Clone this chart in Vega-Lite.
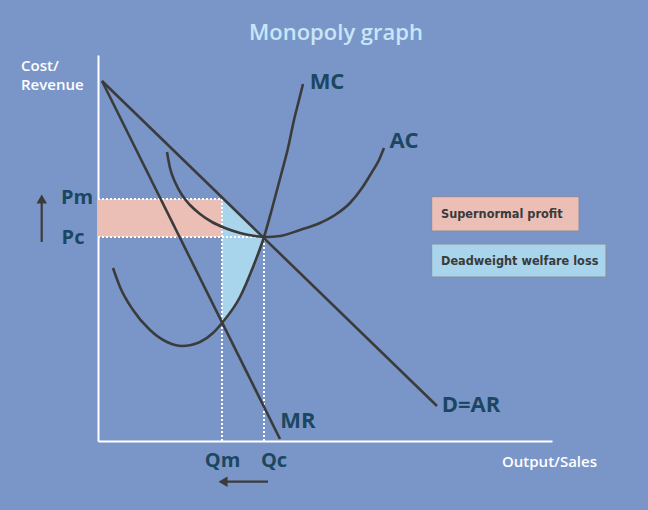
{
  "$schema": "https://vega.github.io/schema/vega-lite/v6.json",
  "width": 454,
  "height": 386,
  "autosize": "none",
  "padding": {"left": 98, "top": 55, "right": 96, "bottom": 69},
  "background": "#7a96c8",
  "config": {"view": {"stroke": null}, "font": "Open Sans"},
  "datasets": {
    "curves": [
      {"curve": "D=AR", "Q": 4, "P": 360}, {"curve": "D=AR", "Q": 339, "P": 35},
      {"curve": "MR", "Q": 4, "P": 360}, {"curve": "MR", "Q": 182, "P": 2},
      {"curve": "MC", "Q": 15, "P": 173}, {"curve": "MC", "Q": 22, "P": 154}, {"curve": "MC", "Q": 35, "P": 131},
      {"curve": "MC", "Q": 52, "P": 111}, {"curve": "MC", "Q": 69, "P": 99}, {"curve": "MC", "Q": 84, "P": 95},
      {"curve": "MC", "Q": 102, "P": 99}, {"curve": "MC", "Q": 115, "P": 108}, {"curve": "MC", "Q": 124, "P": 118},
      {"curve": "MC", "Q": 142, "P": 144}, {"curve": "MC", "Q": 155, "P": 174}, {"curve": "MC", "Q": 166, "P": 204},
      {"curve": "MC", "Q": 175, "P": 236}, {"curve": "MC", "Q": 183, "P": 266}, {"curve": "MC", "Q": 190, "P": 293},
      {"curve": "MC", "Q": 196, "P": 321}, {"curve": "MC", "Q": 201, "P": 341}, {"curve": "MC", "Q": 205, "P": 357},
      {"curve": "AC", "Q": 69, "P": 289}, {"curve": "AC", "Q": 72, "P": 273}, {"curve": "AC", "Q": 77, "P": 259},
      {"curve": "AC", "Q": 84, "P": 246}, {"curve": "AC", "Q": 92, "P": 236}, {"curve": "AC", "Q": 102, "P": 227},
      {"curve": "AC", "Q": 114, "P": 219}, {"curve": "AC", "Q": 127, "P": 213}, {"curve": "AC", "Q": 142, "P": 208},
      {"curve": "AC", "Q": 157, "P": 205}, {"curve": "AC", "Q": 168, "P": 204}, {"curve": "AC", "Q": 182, "P": 205},
      {"curve": "AC", "Q": 202, "P": 211}, {"curve": "AC", "Q": 222, "P": 218}, {"curve": "AC", "Q": 237, "P": 226},
      {"curve": "AC", "Q": 252, "P": 238}, {"curve": "AC", "Q": 264, "P": 253}, {"curve": "AC", "Q": 274, "P": 269},
      {"curve": "AC", "Q": 281, "P": 281}, {"curve": "AC", "Q": 286, "P": 293}
    ],
    "dwl": [
      {"kind": "Deadweight welfare loss", "Q": 124, "top": 242, "bottom": 118},
      {"kind": "Deadweight welfare loss", "Q": 133, "top": 234, "bottom": 130},
      {"kind": "Deadweight welfare loss", "Q": 142, "top": 226, "bottom": 144},
      {"kind": "Deadweight welfare loss", "Q": 155, "top": 214, "bottom": 174},
      {"kind": "Deadweight welfare loss", "Q": 160, "top": 209, "bottom": 189},
      {"kind": "Deadweight welfare loss", "Q": 166, "top": 204, "bottom": 204}
    ],
    "profit": [{"kind": "Supernormal profit", "Q": 0, "Q2": 124, "P": 204, "P2": 242}],
    "dotted": [
      {"Q": 0, "Q2": 124, "P": 242, "P2": 242},
      {"Q": 0, "Q2": 166, "P": 204, "P2": 204},
      {"Q": 124, "Q2": 124, "P": 0, "P2": 242},
      {"Q": 166, "Q2": 166, "P": 0, "P2": 204}
    ],
    "legend": [
      {"kind": "Supernormal profit", "Q": 333.7, "Q2": 481, "P": 210, "P2": 244.3, "tQ": 343, "tP": 227},
      {"kind": "Deadweight welfare loss", "Q": 333.7, "Q2": 508, "P": 164, "P2": 197, "tQ": 343, "tP": 180}
    ],
    "curveLabels": [
      {"label": "MC", "Q": 229, "P": 359},
      {"label": "AC", "Q": 306, "P": 300},
      {"label": "D=AR", "Q": 373, "P": 36},
      {"label": "MR", "Q": 200, "P": 20}
    ],
    "priceQtyLabels": [
      {"label": "Pm", "Q": -21, "P": 243},
      {"label": "Pc", "Q": -25, "P": 203},
      {"label": "Qm", "Q": 124.5, "P": -20},
      {"label": "Qc", "Q": 176, "P": -20}
    ],
    "arrowShafts": [
      {"Q": -56.3, "Q2": -56.3, "P": 199, "P2": 238},
      {"Q": 170, "Q2": 128, "P": -40.7, "P2": -40.7}
    ],
    "arrowHeads": [
      {"dir": "up", "Q": -56.3, "P": 242},
      {"dir": "left", "Q": 125, "P": -40.7}
    ]
  },
  "layer": [
    {
      "data": {"name": "profit"},
      "mark": {"type": "rect"},
      "encoding": {
        "x": {"field": "Q", "type": "quantitative", "scale": {"domain": [0, 454], "nice": false, "zero": false},
              "axis": {"title": null, "labels": false, "ticks": false, "grid": false, "domainColor": "#ffffff", "domainWidth": 2}},
        "x2": {"field": "Q2"},
        "y": {"field": "P", "type": "quantitative", "scale": {"domain": [0, 386], "nice": false, "zero": false},
              "axis": {"title": null, "labels": false, "ticks": false, "grid": false, "domainColor": "#ffffff", "domainWidth": 2}},
        "y2": {"field": "P2"},
        "color": {"field": "kind", "type": "nominal", "legend": null,
                  "scale": {"domain": ["Supernormal profit", "Deadweight welfare loss"], "range": ["#ebbfb6", "#a8d5ec"]}}
      }
    },
    {
      "data": {"name": "dwl"},
      "mark": {"type": "area", "interpolate": "monotone"},
      "encoding": {
        "x": {"field": "Q", "type": "quantitative"},
        "y": {"field": "top", "type": "quantitative"},
        "y2": {"field": "bottom"},
        "color": {"field": "kind", "type": "nominal", "legend": null}
      }
    },
    {
      "data": {"name": "dotted"},
      "mark": {"type": "rule", "color": "#ffffff", "strokeWidth": 2, "strokeDash": [2, 2]},
      "encoding": {
        "x": {"field": "Q", "type": "quantitative"},
        "x2": {"field": "Q2"},
        "y": {"field": "P", "type": "quantitative"},
        "y2": {"field": "P2"}
      }
    },
    {
      "data": {"name": "curves"},
      "mark": {"type": "line", "interpolate": "monotone", "color": "#3b3b3b", "strokeWidth": 2.6},
      "encoding": {
        "x": {"field": "Q", "type": "quantitative"},
        "y": {"field": "P", "type": "quantitative"},
        "detail": {"field": "curve", "type": "nominal"},
        "order": {"field": "Q", "type": "quantitative"}
      }
    },
    {
      "data": {"name": "legend"},
      "mark": {"type": "rect", "stroke": "#8a8c9c", "strokeWidth": 1},
      "encoding": {
        "x": {"field": "Q", "type": "quantitative"},
        "x2": {"field": "Q2"},
        "y": {"field": "P", "type": "quantitative"},
        "y2": {"field": "P2"},
        "color": {"field": "kind", "type": "nominal", "legend": null}
      }
    },
    {
      "data": {"name": "legend"},
      "mark": {"type": "text", "align": "left", "baseline": "middle", "font": "DejaVu Sans Condensed, sans-serif",
               "fontWeight": "bold", "fontSize": 12.6, "color": "#3a3a3a"},
      "encoding": {
        "x": {"field": "tQ", "type": "quantitative"},
        "y": {"field": "tP", "type": "quantitative"},
        "text": {"field": "kind", "type": "nominal"}
      }
    },
    {
      "data": {"name": "curveLabels"},
      "mark": {"type": "text", "align": "center", "baseline": "middle", "fontWeight": "bold", "fontSize": 22, "color": "#1b4760"},
      "encoding": {
        "x": {"field": "Q", "type": "quantitative"},
        "y": {"field": "P", "type": "quantitative"},
        "text": {"field": "label", "type": "nominal"}
      }
    },
    {
      "data": {"name": "priceQtyLabels"},
      "mark": {"type": "text", "align": "center", "baseline": "middle", "fontWeight": "bold", "fontSize": 20, "color": "#1b4760"},
      "encoding": {
        "x": {"field": "Q", "type": "quantitative"},
        "y": {"field": "P", "type": "quantitative"},
        "text": {"field": "label", "type": "nominal"}
      }
    },
    {
      "data": {"values": [
        {"text": "Cost/", "Q": -77, "P": 375},
        {"text": "Revenue", "Q": -77, "P": 356},
        {"text": "Output/Sales", "Q": 404, "P": -21}
      ]},
      "mark": {"type": "text", "align": "left", "baseline": "middle", "fontWeight": 600, "fontSize": 15, "color": "#ffffff"},
      "encoding": {
        "x": {"field": "Q", "type": "quantitative"},
        "y": {"field": "P", "type": "quantitative"},
        "text": {"field": "text", "type": "nominal"}
      }
    },
    {
      "data": {"values": [{"text": "Monopoly graph", "Q": 238, "P": 408}]},
      "mark": {"type": "text", "align": "center", "baseline": "middle", "fontWeight": 600, "fontSize": 22, "color": "#c9e6f8"},
      "encoding": {
        "x": {"field": "Q", "type": "quantitative"},
        "y": {"field": "P", "type": "quantitative"},
        "text": {"field": "text", "type": "nominal"}
      }
    },
    {
      "data": {"name": "arrowShafts"},
      "mark": {"type": "rule", "color": "#3b3b3b", "strokeWidth": 2.2},
      "encoding": {
        "x": {"field": "Q", "type": "quantitative"},
        "x2": {"field": "Q2"},
        "y": {"field": "P", "type": "quantitative"},
        "y2": {"field": "P2"}
      }
    },
    {
      "data": {"name": "arrowHeads"},
      "mark": {"type": "point", "filled": true, "color": "#3b3b3b", "opacity": 1, "size": 110},
      "encoding": {
        "x": {"field": "Q", "type": "quantitative"},
        "y": {"field": "P", "type": "quantitative"},
        "shape": {"field": "dir", "type": "nominal", "legend": null,
                  "scale": {"domain": ["up", "left"], "range": ["triangle-up", "triangle-left"]}}
      }
    }
  ]
}
